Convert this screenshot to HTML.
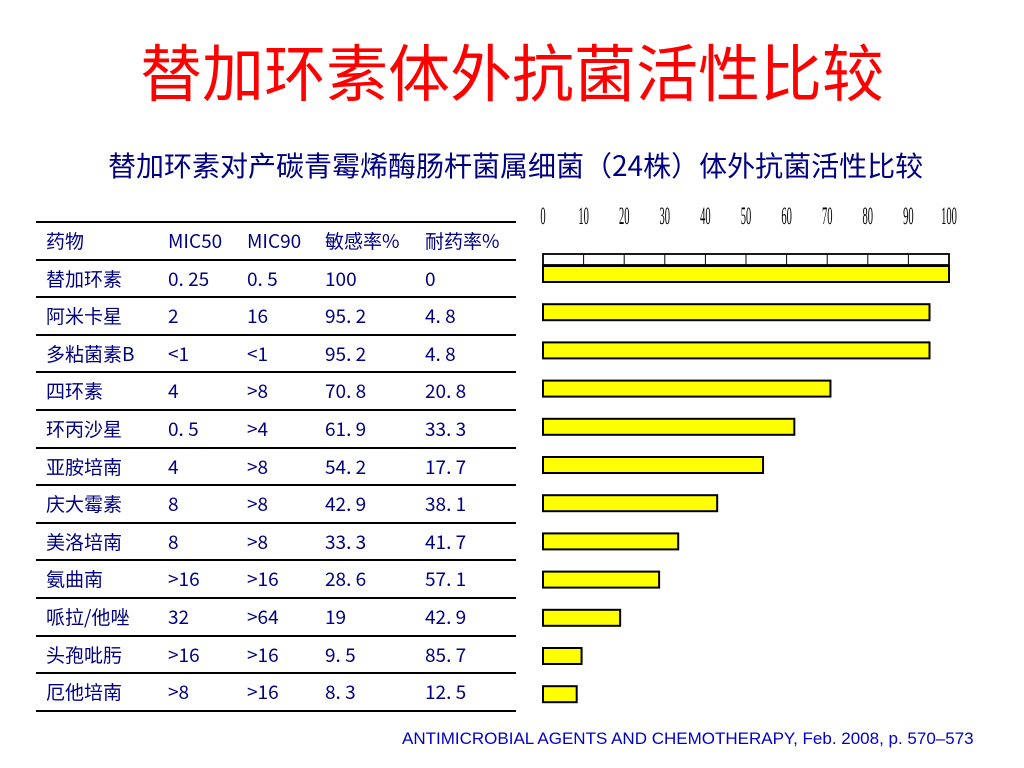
<!DOCTYPE html>
<html><head><meta charset="utf-8"><style>
body{margin:0;width:1024px;height:768px;background:#fff;position:relative;overflow:hidden;font-family:"Liberation Sans","Noto Sans CJK SC",sans-serif}
.t{position:absolute;white-space:nowrap}
.cell{position:absolute;font-family:"WenQuanYi Zen Hei","Noto Sans CJK SC",sans-serif;font-size:19px;color:#000080;line-height:20px}
.hl{position:absolute;left:36px;width:480px;height:2px;background:#000}
</style></head><body>
<div class="t" style="left:0;width:1024px;text-align:center;top:32px;font-size:62px;color:#f00;font-family:'Noto Sans CJK SC',sans-serif;line-height:74px">替加环素体外抗菌活性比较</div>
<div class="t" style="left:108px;top:147px;font-size:28px;color:#000080;font-family:'WenQuanYi Zen Hei','Noto Sans CJK SC',sans-serif;line-height:36px">替加环素对产碳青霉烯酶肠杆菌属细菌（24株）体外抗菌活性比较</div>
<div id="table"></div>
<svg id="chart" width="1024" height="768" style="position:absolute;left:0;top:0"></svg>
<div class="t" style="left:402px;top:729px;font-size:17px;color:#0000cc">ANTIMICROBIAL AGENTS AND CHEMOTHERAPY, Feb. 2008, p. 570–573</div>
<script>
const drugs=["替加环素","阿米卡星","多粘菌素B","四环素","环丙沙星","亚胺培南","庆大霉素","美洛培南","氨曲南","哌拉/他唑","头孢吡肟","厄他培南"];
const mic50=["0.25","2","<1","4","0.5","4","8","8",">16","32",">16",">8"];
const mic90=["0.5","16","<1",">8",">4",">8",">8",">8",">16",">64",">16",">16"];
const sens=[100,95.2,95.2,70.8,61.9,54.2,42.9,33.3,28.6,19,9.5,8.3];
const resist=["0","4.8","4.8","20.8","33.3","17.7","38.1","41.7","57.1","42.9","85.7","12.5"];
const ticks=[0,10,20,30,40,50,60,70,80,90,100];
const headers=["药物","MIC50","MIC90","敏感率%","耐药率%"];
const tb=document.getElementById('table');
const colX=[46,168,247,325,425];
const rowH=37.6, top0=222;
function fmt(s){return String(s).replace('.', '. ');}
function addCell(x,y,txt,name){const d=document.createElement('div');d.className='cell';d.style.left=x+'px';d.style.top=y+'px';d.textContent=txt;


tb.appendChild(d);}
function addLine(y){const l=document.createElement('div');l.className='hl';l.style.top=y+'px';


tb.appendChild(l);}
headers.forEach((h,i)=>addCell(colX[i],top0+9,h,'header-cell'));
addLine(top0-1);
for(let r=0;r<drugs.length;r++){
 const y=top0+rowH*(r+1);
 addLine(y-1);
 const vals=[drugs[r],fmt(mic50[r]),fmt(mic90[r]),fmt(sens[r]),fmt(resist[r])];
 vals.forEach((v,i)=>addCell(colX[i],y+9,v,'table-cell'));
}
addLine(top0+rowH*13-1);
const svg=document.getElementById('chart');const NS='http://www.w3.org/2000/svg';
const x0=543,x1=949;const xs=v=>x0+(x1-x0)*v/100;
function el(t,a,name){const e=document.createElementNS(NS,t);for(const k in a)e.setAttribute(k,a[k]);


svg.appendChild(e);return e;}
el('rect',{x:x0,y:254,width:x1-x0,height:11,fill:'#fff',stroke:'#000','stroke-width':1.8},'axis-frame');
ticks.forEach(t=>{
 if(t>0&&t<100)el('line',{x1:xs(t),x2:xs(t),y1:254,y2:265,stroke:'#000','stroke-width':1},'tick-mark');
 const tx=el('text',{x:xs(t),y:224,'text-anchor':'middle','font-size':25,'font-family':'Liberation Serif, serif',transform:`translate(${xs(t)},0) scale(0.42,1) translate(${-xs(t)},0)`,fill:'#000'},'tick-label');
 tx.textContent=t;
});
sens.forEach((v,i)=>{
 const cy=274+38.2*i;
 el('rect',{x:x0,y:cy-8,width:xs(v)-x0,height:16,fill:'#ffff00',stroke:'#000','stroke-width':2},'bar-'+i);
});
</script>
</body></html>
